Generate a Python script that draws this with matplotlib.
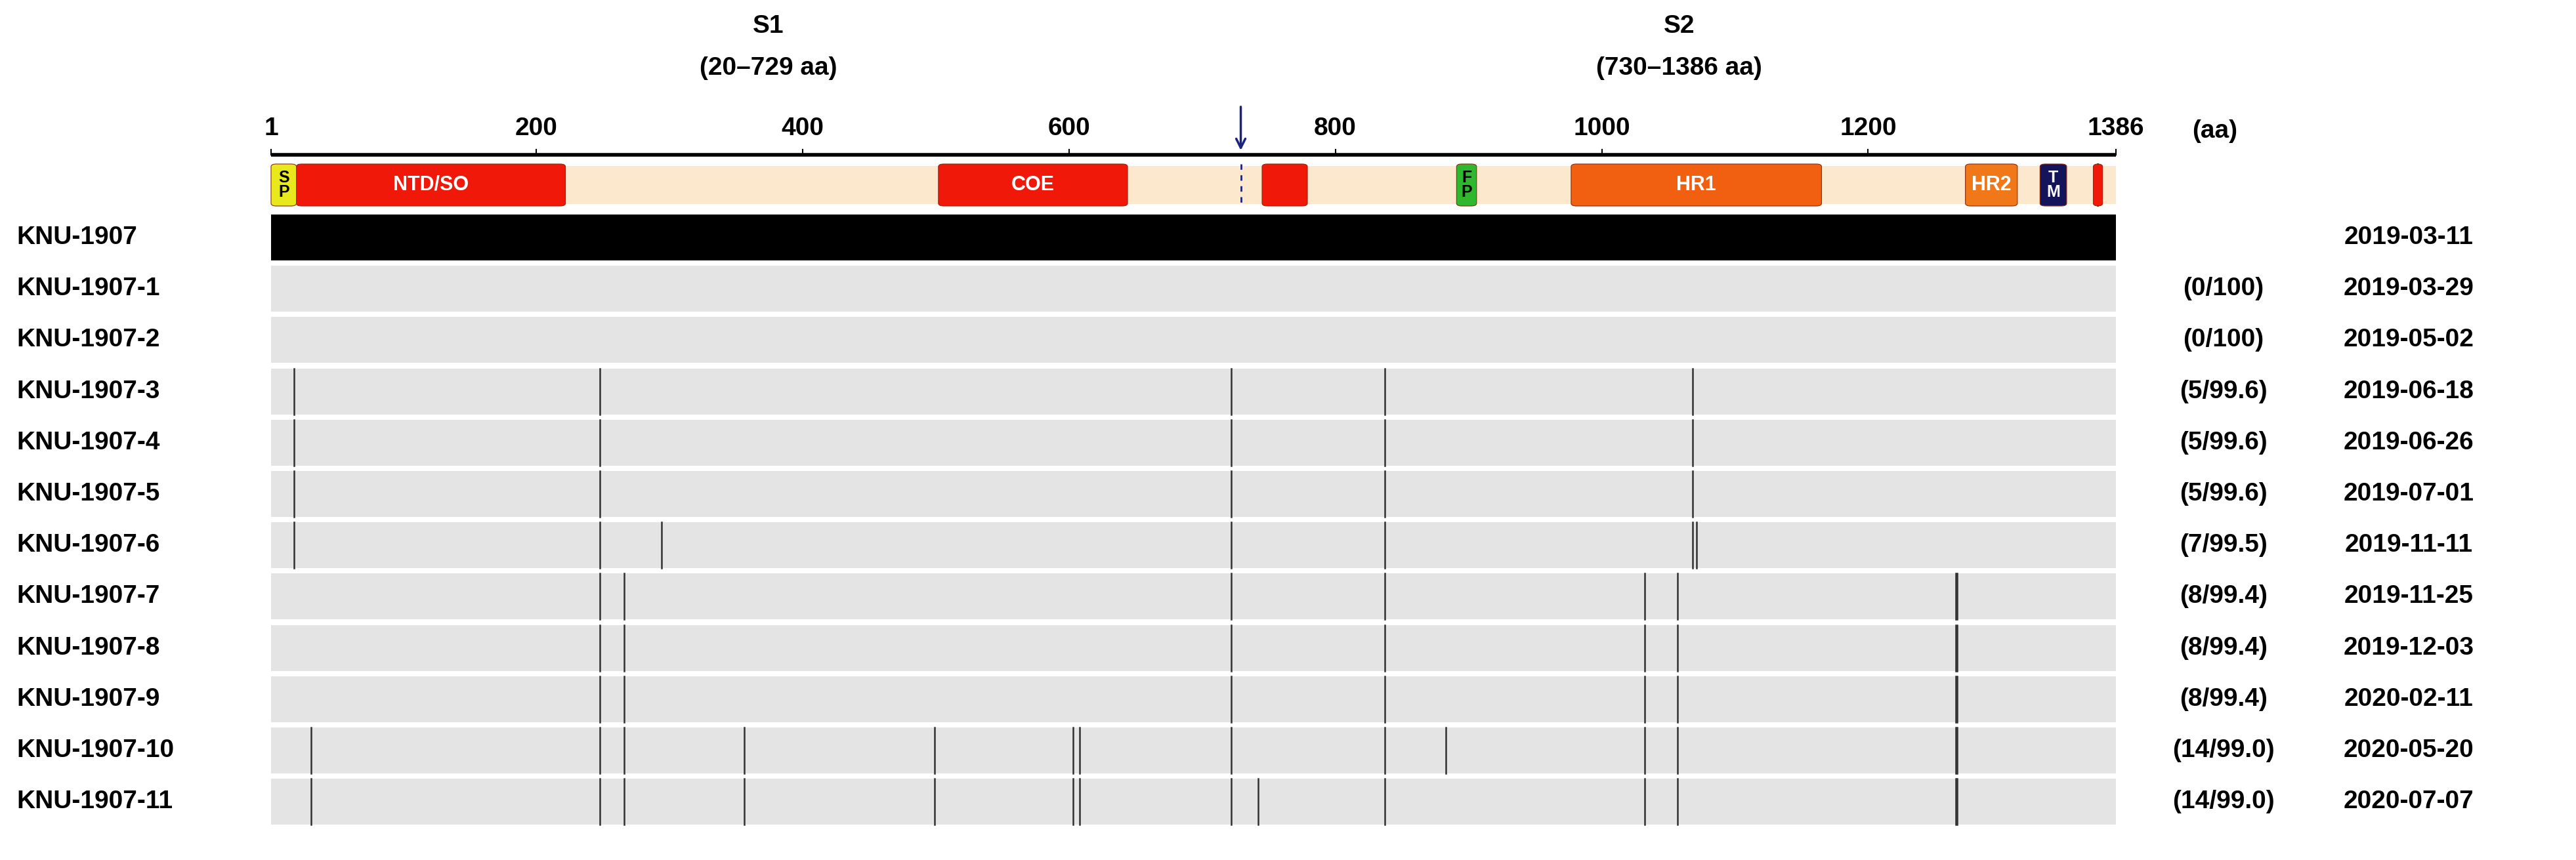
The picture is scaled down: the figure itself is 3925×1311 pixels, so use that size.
import matplotlib
matplotlib.use('Agg')
import matplotlib.pyplot as plt
from matplotlib.patches import FancyBboxPatch, Rectangle, FancyArrowPatch

plt.rcParams['font.family'] = ['Liberation Sans', 'DejaVu Sans']
plt.rcParams['font.weight'] = 'bold'

SEQ_LEN = 1386
CLEAVAGE = 729

strains = ['KNU-1907', 'KNU-1907-1', 'KNU-1907-2', 'KNU-1907-3', 'KNU-1907-4', 'KNU-1907-5',
           'KNU-1907-6', 'KNU-1907-7', 'KNU-1907-8', 'KNU-1907-9', 'KNU-1907-10', 'KNU-1907-11']
dates = ['2019-03-11', '2019-03-29', '2019-05-02', '2019-06-18', '2019-06-26', '2019-07-01',
         '2019-11-11', '2019-11-25', '2019-12-03', '2020-02-11', '2020-05-20', '2020-07-07']
summary = ['', '(0/100)', '(0/100)', '(5/99.6)', '(5/99.6)', '(5/99.6)', '(7/99.5)',
           '(8/99.4)', '(8/99.4)', '(8/99.4)', '(14/99.0)', '(14/99.0)']

# mutated aa positions per strain
mut_a = [18, 248, 722, 837, 1068]
mut_b = [18, 248, 294, 722, 837, 1068, 1071]
mut_c = [248, 266, 722, 837, 1032, 1057, 1266, 1267]
mut_d = [31, 248, 266, 356, 499, 603, 608, 722, 837, 883, 1032, 1057, 1266, 1267]
mut_e = [31, 248, 266, 356, 499, 603, 608, 722, 742, 837, 1032, 1057, 1266, 1267]
mutations = [None, [], [], mut_a, mut_a, mut_a, mut_b, mut_c, mut_c, mut_c, mut_d, mut_e]

# domains
dom_start = [1, 20, 502, 745, 891, 977, 1273, 1329, 1369]
dom_end = [20, 222, 644, 779, 906, 1165, 1312, 1349, 1376]
dom_label = ['S\nP', 'NTD/SO', 'COE', '', 'F\nP', 'HR1', 'HR2', 'T\nM', '']
dom_color = ['#e8e81c', '#f01808', '#f01808', '#f01808', '#2fb82f', '#f06010', '#f07818',
             '#14145a', '#f01808']
dom_text = ['black', 'white', 'white', 'white', 'black', 'white', 'white', 'white', 'white']
ticks = [1, 200, 400, 600, 800, 1000, 1200, 1386]

W, H = 3925, 1311
FS = 28
fig = plt.figure(figsize=(W / 100, H / 100), dpi=100)
ax = fig.add_axes([0, 0, 1, 1])
ppa = (3224 - 413) / (SEQ_LEN - 1)
x0 = 1 - 413 / ppa
ax.set_xlim(x0, SEQ_LEN + (W - 3224) / ppa)
ax.set_ylim(H, 0)
ax.axis('off')

# header
ax.text(CLEAVAGE / 2 + 10, 40, 'S1', ha='center', va='center', fontsize=FS)
ax.text(CLEAVAGE / 2 + 10, 104, '(20–729 aa)', ha='center', va='center', fontsize=FS)
ax.text((730 + SEQ_LEN) / 2, 40, 'S2', ha='center', va='center', fontsize=FS)
ax.text((730 + SEQ_LEN) / 2, 104, '(730–1386 aa)', ha='center', va='center', fontsize=FS)

# ruler
axis_y = 236
ax.plot([1, SEQ_LEN], [axis_y, axis_y], color='black', lw=4, solid_capstyle='butt')
for t in ticks:
    ax.plot([t, t], [axis_y - 8, axis_y], color='black', lw=1.5)
    ax.text(t, 196, str(t), ha='center', va='center', fontsize=FS)
ax.text(SEQ_LEN + 74, 200, '(aa)', ha='center', va='center', fontsize=FS)
ax.add_patch(FancyArrowPatch((CLEAVAGE, 160), (CLEAVAGE, 232), arrowstyle='->',
                             color='#1a237e', lw=2.5, mutation_scale=25))

# domain bar
dom_y0, dom_y1 = 250, 314
ax.add_patch(Rectangle((1, dom_y0 + 3), SEQ_LEN - 1, dom_y1 - dom_y0 - 6, color='#fce8cc', lw=0))
for s, e, lab, c, tc in zip(dom_start, dom_end, dom_label, dom_color, dom_text):
    ax.add_patch(FancyBboxPatch((s, dom_y0), e - s, dom_y1 - dom_y0,
                                boxstyle='round,pad=0,rounding_size=4', fc=c, ec='#8a2a10', lw=0.8))
    if lab:
        vert = '\n' in lab
        ax.text((s + e) / 2, (dom_y0 + dom_y1) / 2, lab, ha='center', va='center', color=tc,
                fontsize=18 if vert else 22, linespacing=0.9)
ax.plot([CLEAVAGE, CLEAVAGE], [dom_y0, dom_y1], color='#1a237e', lw=2, ls=(0, (3, 3)))
ax.text(3725, 282, 'Collection date', ha='center', va='center', fontsize=FS)

# strain rows
row0, step, bar_h = 362, 78.2, 70
for i, name in enumerate(strains):
    yc = row0 + i * step
    color = 'black' if i == 0 else '#e4e4e4'
    ax.add_patch(Rectangle((1, yc - bar_h / 2), SEQ_LEN - 1, bar_h, color=color, lw=0))
    if mutations[i]:
        for m in mutations[i]:
            ax.plot([m, m], [yc - bar_h / 2, yc + bar_h / 2], color='#303030', lw=1.8)
    ax.text(x0 + 25 / ppa, yc, name, ha='left', va='center', fontsize=FS)
    ax.text(x0 + 3388 / ppa, yc, summary[i], ha='center', va='center', fontsize=FS)
    ax.text(x0 + 3670 / ppa, yc, dates[i], ha='center', va='center', fontsize=FS)

fig.savefig('out.png', dpi=100, facecolor='white')
